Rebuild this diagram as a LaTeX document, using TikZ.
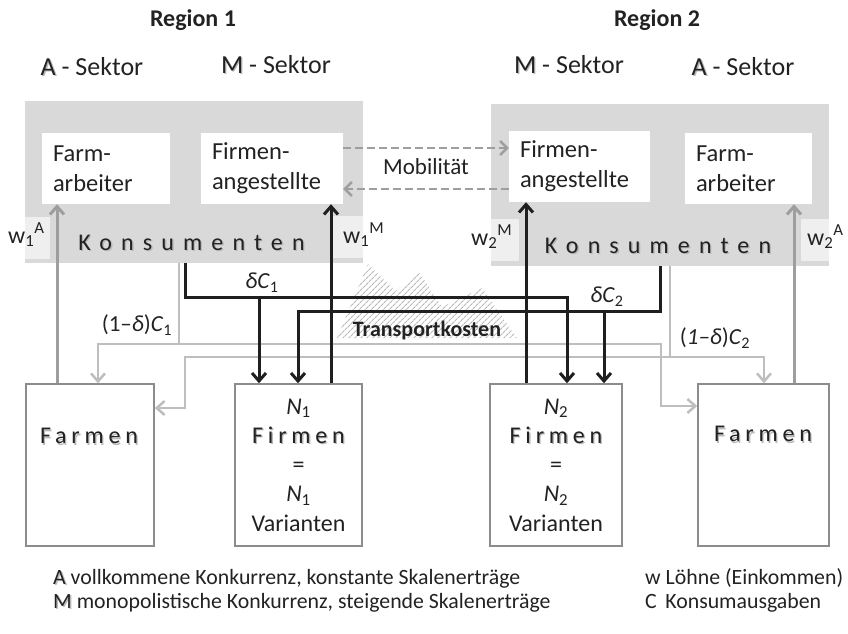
\documentclass[tikz,border=0pt]{standalone}
\usepackage{fontspec}
\setmainfont{Carlito}
\newfontfamily\wideK[LetterSpace=38]{Carlito}
\newfontfamily\wideF[LetterSpace=20]{Carlito}
\usetikzlibrary{arrows.meta,patterns.meta}
\definecolor{boxgray}{HTML}{D9D9D9}
\definecolor{labgray}{HTML}{EFEFEF}
\definecolor{midgray}{HTML}{9E9E9E}
\definecolor{ltgray}{HTML}{BEBEBE}
\definecolor{framegray}{HTML}{8C8C8C}
\definecolor{ink}{HTML}{222222}
\newcommand{\shd}[1]{\makebox[0pt][l]{\hspace{1.3pt}\raisebox{-1.3pt}{\textcolor{black!28}{#1}}}#1}
\tikzset{
  kons/.style={fill=boxgray, inner sep=0, minimum width=338pt, minimum height=162pt},
  worker/.style={fill=white, inner xsep=11pt, inner ysep=0, minimum height=71pt, align=left,
    font=\fontsize{24.5}{30}\selectfont, text=ink},
  wlab/.style={fill=labgray, inner sep=0, minimum height=42pt},
  wtxt/.style={anchor=base west, inner sep=0, font=\fontsize{24}{28}\selectfont, text=ink},
  prod/.style={draw=framegray, line width=1.5pt, fill=white, inner sep=0, minimum height=162pt,
    align=center, font=\fontsize{24}{29.3}\selectfont, text=ink},
  lab/.style={inner sep=0, font=\fontsize{23}{27}\selectfont, text=ink},
  sektor/.style={lab, font=\fontsize{26}{30}\selectfont},
  legend/.style={lab, anchor=base west, font=\fontsize{21.8}{24}\selectfont},
  blk/.style={line width=3pt, black!88},
  blkarr/.style={blk, -{Straight Barb[length=8pt,width=14pt]}},
  midarr/.style={line width=3pt, midgray, -{Straight Barb[length=8pt,width=14pt]}},
  ltarr/.style={line width=2.5pt, ltgray, -{Straight Barb[length=8pt,width=14pt]}},
  mob/.style={line width=2.5pt, midgray, dash pattern=on 8pt off 4pt, -{Straight Barb[length=7pt,width=14pt]}}
}
\begin{document}
\begin{tikzpicture}[x=1pt,y=-1pt]
\useasboundingbox (0,0) rectangle (848,633);
\node[kons] (kons1) at (194,182) {};
\node[kons] (kons2) at (660,185) {};
\node[wlab, minimum width=25pt] (wA1) at (37.5,237.5) {};
\node[wlab, minimum width=30pt] (wM1) at (348,236.5) {};
\node[wlab, minimum width=28pt] (wM2) at (505,239.5) {};
\node[wlab, minimum width=28pt] (wA2) at (815,239.5) {};
\node[worker, text width=106pt] (farbA1) at (106,168.5) {Farm-\\arbeiter};
\node[worker, text width=120pt] (firmA1) at (272,168.5) {Firmen-\\angestellte};
\node[worker, text width=119pt] (firmA2) at (579.5,166.5) {Firmen-\\angestellte};
\node[worker, text width=105pt] (farbA2) at (748.5,168.5) {Farm-\\arbeiter};
\node[prod, minimum width=128pt] (farmen1) at (90,465) {};
\node[prod, minimum width=127pt] (firmen1) at (298.5,465) {\textit{N}\textsubscript{1}\\{\wideF\shd{Firmen}\hspace{-4.8pt}}\\=\\\textit{N}\textsubscript{1}\\Varianten};
\node[prod, minimum width=132pt] (firmen2) at (556,465) {\textit{N}\textsubscript{2}\\{\wideF\shd{Firmen}\hspace{-4.8pt}}\\=\\\textit{N}\textsubscript{2}\\Varianten};
\node[prod, minimum width=131pt] (farmen2) at (763.5,465) {};
\fill[pattern={Lines[angle=45,distance=4pt,line width=1.1pt]}, pattern color=gray!55]
  (337,338) -- (368,264) -- (396,291) -- (419,272) -- (442,307) -- (482,288) -- (517,338) -- cycle;
\draw[ltarr] (kons1.south -| 179,0) |- (98,344) -- (farmen1.north -| 98,0);
\draw[ltarr] (179,344) -- (661,344) |- (farmen2.west |- 0,406);
\draw[ltarr] (kons2.south -| 670,0) |- (764,357) -- (farmen2.north -| 764,0);
\draw[ltarr] (670,357) -- (185,357) |- (farmen1.east |- 0,408);
\draw[midarr] (farmen1.north -| 57,0) -- (farbA1.south -| 57,0);
\draw[midarr] (farmen2.north -| 794,0) -- (farbA2.south -| 794,0);
\draw[blkarr] (kons1.south -| 185,0) |- (567,297) -- (firmen2.north -| 567,0);
\draw[blkarr] (259,297) -- (firmen1.north -| 259,0);
\draw[blkarr] (kons2.south -| 660,0) |- (298,311) -- (firmen1.north -| 298,0);
\draw[blkarr] (604,311) -- (firmen2.north -| 604,0);
\draw[blkarr] (firmen1.north -| 331,0) -- (firmA1.south -| 331,0);
\draw[blkarr] (firmen2.north -| 526,0) -- (firmA2.south -| 526,0);
\draw[mob] (firmA1.east |- 0,148) -- (firmA2.west |- 0,148);
\draw[mob] (firmA2.west |- 0,189) -- (firmA1.east |- 0,189);
\node[lab] (mobil) at (426,167) {Mobilität};
\node[lab, font=\fontsize{22}{26}\selectfont\bfseries] (trans) at (427,331) {Transportkosten};
\node[lab] (dc1) at (262,283) {\textit{δC}\textsubscript{1}};
\node[lab] (dc2) at (607,297) {\textit{δC}\textsubscript{2}};
\node[lab] (rc1) at (137,325) {(1–\textit{δ})\textit{C}\textsubscript{1}};
\node[lab] (rc2) at (715,338) {(\textit{1–δ})\textit{C}\textsubscript{2}};
\node[wtxt] (w1A) at (8,243) {w\textsubscript{1}\textsuperscript{A}};
\node[wtxt] (w1M) at (343,243) {w\textsubscript{1}\textsuperscript{M}};
\node[wtxt] (w2M) at (471,245) {w\textsubscript{2}\textsuperscript{M}};
\node[wtxt] (w2A) at (807,245) {w\textsubscript{2}\textsuperscript{A}};
\node[lab, anchor=base, font=\fontsize{24}{28}\selectfont] (konsT1) at (191.5,250) {\wideK\shd{Konsumenten}};
\node[lab, anchor=base, font=\fontsize{24}{28}\selectfont] (konsT2) at (658,253) {\wideK\shd{Konsumenten}};
\node[lab, font=\fontsize{24}{28}\selectfont] (farmT1) at (89,437) {\wideF\shd{Farmen}};
\node[lab, font=\fontsize{24}{28}\selectfont] (farmT2) at (763,435) {\wideF\shd{Farmen}};
\node[lab, font=\fontsize{24}{28}\selectfont\bfseries] (reg1) at (193,20) {Region 1};
\node[lab, font=\fontsize{24}{28}\selectfont\bfseries] (reg2) at (657,20) {Region 2};
\node[sektor] (sekA1) at (92,67) {\shd{A} - Sektor};
\node[sektor] (sekM1) at (276,65) {\shd{M} - Sektor};
\node[sektor] (sekM2) at (569,65) {\shd{M} - Sektor};
\node[sektor] (sekA2) at (743,67) {\shd{A} - Sektor};
\node[legend] (legA) at (53,584) {\shd{A} vollkommene Konkurrenz, konstante Skalenerträge};
\node[legend] (legM) at (53,608) {\shd{M} monopolistische Konkurrenz, steigende Skalenerträge};
\node[legend] (legW) at (645,584) {w Löhne (Einkommen)};
\node[legend] (legC) at (645,608) {C\, Konsumausgaben};
\end{tikzpicture}
\end{document}
